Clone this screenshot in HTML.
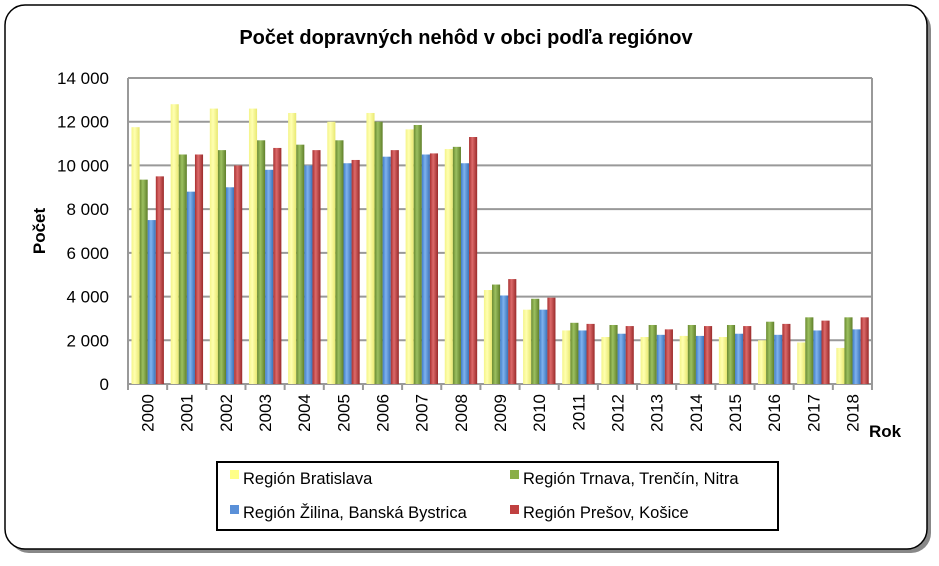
<!DOCTYPE html>
<html><head><meta charset="utf-8"><style>
body{margin:0;background:#fff;width:939px;height:561px;overflow:hidden}
</style></head><body>
<svg width="939" height="561" xmlns="http://www.w3.org/2000/svg" font-family="'Liberation Sans',sans-serif">
<defs>
<linearGradient id="gy" x1="0" x2="1"><stop offset="0" stop-color="#f4f48a"/><stop offset="0.4" stop-color="#ffffb0"/><stop offset="1" stop-color="#e8e870"/></linearGradient>
<linearGradient id="gg" x1="0" x2="1"><stop offset="0" stop-color="#6a8a30"/><stop offset="0.4" stop-color="#9cc060"/><stop offset="1" stop-color="#5f7f2a"/></linearGradient>
<linearGradient id="gb" x1="0" x2="1"><stop offset="0" stop-color="#3f7cc8"/><stop offset="0.4" stop-color="#7fb2ee"/><stop offset="1" stop-color="#3a72b8"/></linearGradient>
<linearGradient id="gr" x1="0" x2="1"><stop offset="0" stop-color="#a83030"/><stop offset="0.4" stop-color="#dc6a6a"/><stop offset="1" stop-color="#9a2a2a"/></linearGradient>
</defs>
<rect x="9" y="9" width="922" height="544" rx="20" fill="#888"/>
<rect x="5" y="5" width="922" height="544" rx="20" fill="#fff" stroke="#000" stroke-width="1.5"/>
<text x="466" y="44" font-size="20" font-weight="bold" text-anchor="middle">Počet dopravných nehôd v obci podľa regiónov</text>
<g id="grid" stroke="#999" stroke-width="2"></g>
<g id="bars"></g>
<g id="lbl" font-size="17"></g>
<text transform="translate(45,231) rotate(-90)" font-size="17" font-weight="bold" text-anchor="middle">Počet</text>
<text x="869" y="437" font-size="17" font-weight="bold">Rok</text>
<rect x="217" y="462" width="561" height="68" fill="#fff" stroke="#000" stroke-width="2"/>
<g font-size="16.5">
<rect x="230" y="470" width="9" height="9" fill="#ffff88"/><text x="243" y="484">Región Bratislava</text>
<rect x="510" y="470" width="9" height="9" fill="#8aae48"/><text x="523" y="484">Región Trnava, Trenčín, Nitra</text>
<rect x="230" y="505" width="9" height="9" fill="#5a90d8"/><text x="243" y="518">Región Žilina, Banská Bystrica</text>
<rect x="510" y="505" width="9" height="9" fill="#c04040"/><text x="523" y="518">Región Prešov, Košice</text>
</g>
</svg>
<script>
const ns="http://www.w3.org/2000/svg";
const d=[[11750,9350,7500,9500],[12800,10500,8800,10500],[12600,10700,9000,10000],[12600,11150,9800,10800],[12400,10950,10000,10700],[12000,11150,10100,10250],[12400,12000,10400,10700],[11650,11850,10500,10550],[10750,10850,10100,11300],[4300,4550,4050,4800],[3400,3900,3400,3950],[2450,2800,2450,2750],[2150,2700,2300,2650],[2150,2700,2250,2500],[2200,2700,2200,2650],[2150,2700,2300,2650],[2000,2850,2250,2750],[1900,3050,2450,2900],[1650,3050,2500,3050]];
const L=128,R=872,Y0=384,H=306,cw=(R-L)/19;
const g=document.getElementById('grid'),b=document.getElementById('bars'),lb=document.getElementById('lbl');
function el(p,t,a,txt){const e=document.createElementNS(ns,t);for(const k in a)e.setAttribute(k,a[k]);if(txt)e.textContent=txt;p.appendChild(e);return e;}
for(let i=0;i<=7;i++){const y=Y0-i*H/7;el(g,'line',{x1:L,x2:R,y1:y,y2:y});
el(lb,'text',{x:109,y:y+6,'text-anchor':'end'},i==0?'0':(i*2)+' 000');}
el(g,'line',{x1:L,x2:L,y1:78,y2:Y0});el(g,'line',{x1:R,x2:R,y1:78,y2:Y0});
for(let i=0;i<=19;i++){const x=L+i*cw;el(g,'line',{x1:x,x2:x,y1:Y0,y2:Y0+6});}
const f=['url(#gy)','url(#gg)','url(#gb)','url(#gr)'];
d.forEach((v,i)=>{const x0=L+i*cw+3.5;v.forEach((val,j)=>{const h=val/14000*H;el(b,'rect',{x:x0+j*8.1,y:Y0-h,width:8.1,height:h,fill:f[j]});});
const cx=L+i*cw+cw/2+6;el(lb,'text',{transform:`translate(${cx},${Y0+10}) rotate(-90)`,'text-anchor':'end'},String(2000+i));});
</script>
</body></html>
